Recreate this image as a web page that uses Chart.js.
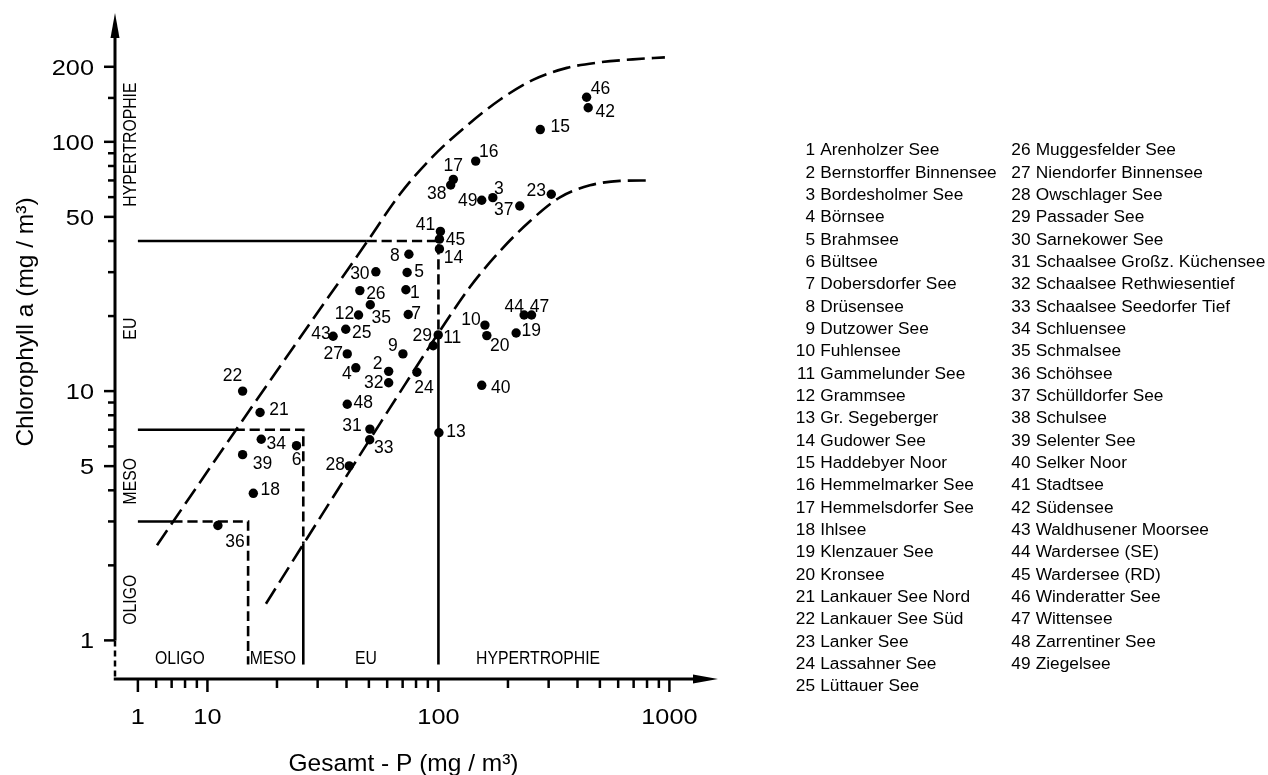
<!DOCTYPE html>
<html>
<head>
<meta charset="utf-8">
<style>
html,body{margin:0;padding:0;background:#fff;overflow:hidden}
canvas{display:block}
</style>
<script src="https://cdn.jsdelivr.net/npm/chart.js@4/dist/chart.umd.min.js"></script>
</head>
<body>
<canvas id="c" width="1268" height="775"></canvas>
<script>
// ---------------- data ----------------
const lakeNames = [
  'Arenholzer See','Bernstorffer Binnensee','Bordesholmer See','Börnsee','Brahmsee',
  'Bültsee','Dobersdorfer See','Drüsensee','Dutzower See','Fuhlensee',
  'Gammelunder See','Grammsee','Gr. Segeberger','Gudower See','Haddebyer Noor',
  'Hemmelmarker See','Hemmelsdorfer See','Ihlsee','Klenzauer See','Kronsee',
  'Lankauer See Nord','Lankauer See Süd','Lanker See','Lassahner See','Lüttauer See',
  'Muggesfelder See','Niendorfer Binnensee','Owschlager See','Passader See','Sarnekower See',
  'Schaalsee Großz. Küchensee','Schaalsee Rethwiesentief','Schaalsee Seedorfer Tief','Schluensee','Schmalsee',
  'Schöhsee','Schülldorfer See','Schulsee','Selenter See','Selker Noor',
  'Stadtsee','Südensee','Waldhusener Moorsee','Wardersee (SE)','Wardersee (RD)',
  'Winderatter See','Wittensee','Zarrentiner See','Ziegelsee'
];
// Gesamt-P (mg/m³)
const totalP = [
  72.3, 60.9, 172, 43.9, 73.2, 24.3, 74.0, 74.5, 70.2, 159,
  99.8, 45.1, 100.5, 101, 276, 145, 116, 15.8, 217, 162,
  16.9, 14.2, 308, 80.7, 39.7, 45.7, 40.3, 41.1, 94.9, 53.6,
  50.5, 60.9, 50.4, 17.1, 50.7, 11.1, 225, 113, 14.2, 154,
  102, 445, 35.0, 235, 101, 438, 253, 40.3, 154
];
// Chlorophyll a (mg/m³)
const chlA = [
  25.5, 12.0, 59.7, 12.4, 29.9, 6.04, 20.3, 35.4, 14.1, 18.4,
  16.8, 20.2, 6.81, 37.2, 112, 83.7, 70.7, 3.89, 17.1, 16.7,
  8.21, 10.0, 61.6, 11.9, 17.7, 25.3, 14.1, 5.01, 15.2, 30.1,
  7.04, 10.8, 6.38, 6.41, 22.2, 2.89, 55.3, 67.1, 5.56, 10.55,
  43.7, 137, 16.6, 20.2, 40.7, 151, 20.2, 8.86, 58.3
];
// upper and lower limit curves
const upperCurveP   = [6.05, 13.15, 25.15, 49.0, 68.1, 94.7, 132.9, 184.6, 256.6, 360, 500, 695, 956];
const upperCurveChl = [2.41, 6.89, 16.36, 39.6, 61.6, 87.4, 116.2, 147.5, 177.3, 198, 208.4, 214.2, 218.2];
const lowerCurveP   = [17.92, 25.4, 35.64, 50.5, 71.6, 101.5, 136.9, 184.6, 248.9, 335.7, 452.7, 610.6, 807];
const lowerCurveChl = [1.402, 2.347, 3.858, 6.40, 10.62, 17.45, 26.16, 36.44, 48.03, 59.91, 66.9, 69.7, 70.0];
// trophic class limits
const classLimitP   = [15, 26, 100];
const classLimitChl = [3, 7, 40];
const upperCrossP   = [7.07, 13.15, 49.0];
const lowerCrossChl = [null, 2.45, 17.0];
const limitStartP = 5;
const limitEndChl = 0.8;
// axis ticks
const xTickValues = [5,6,7,8,9,10,20,30,40,50,60,70,80,90,100,200,300,400,500,600,700,800,900,1000];
const xLabelValues = [5, 10, 100, 1000];
const xLabelTexts  = ['1', '10', '100', '1000'];
const yTickValues = [1,2,3,4,5,6,7,8,9,10,20,30,40,50,60,70,80,90,100,150,200];
const yLabelValues = [1, 5, 10, 50, 100, 200];
const yLabelTexts  = ['1', '5', '10', '50', '100', '200'];
const xRange = [3.98, 1623];
const yRange = [0.716, 328.7];
const xTitle = 'Gesamt - P (mg / m³)';
const yTitle = 'Chlorophyll a (mg / m³)';
const bottomClassNames = ['OLIGO', 'MESO', 'EU', 'HYPERTROPHIE'];
const bottomClassP     = [7.6, 19.2, 48.5, 270];
const sideClassNames   = ['HYPERTROPHIE', 'EU', 'MESO', 'OLIGO'];
const sideClassChl     = [97.5, 17.8, 4.35, 1.455];

// ---------------- layout / style ----------------
const FONT = '"Liberation Sans", Arial, Helvetica, sans-serif';
// label offsets (px) of each lake number relative to its dot
const labelOffset = [
  [9,3],[-11,-7],[6,-9],[-9,6],[12,0],[0,14],[8,0],[-14,2],[-10,-8],[-14,-5],
  [14,3],[-14,-1],[17,-1],[14,9],[20,-2],[13,-9],[0,-13],[17,-3],[15,-2],[13,11],
  [19,-2],[-10,-15],[-15,-3],[7,16],[16,4],[16,4],[-14,0],[-14,-1],[-11,-10],[-16,2],
  [-18,-3],[-15,0],[14,8],[15,5],[11,13],[17,17],[-16,4],[-14,9],[20,10],[19,3],
  [-15,-6],[17,4],[-12,-2],[-10,-8],[16,1],[14,-8],[8,-8],[16,-1],[-14,1]
];

function txt(ctx, s, x, y, o) {
  ctx.save();
  ctx.translate(x, y);
  if (o.rot) ctx.rotate(o.rot);
  if (o.sx) ctx.scale(o.sx, 1);
  ctx.font = (o.weight || '') + ' ' + o.size + 'px ' + FONT;
  ctx.textAlign = o.align || 'center';
  ctx.textBaseline = o.base || 'alphabetic';
  ctx.fillStyle = '#000';
  ctx.fillText(s, 0, 0);
  ctx.restore();
}

const axesPlugin = {
  id: 'axesPlugin',
  beforeDatasetsDraw(chart) {
    const ctx = chart.ctx, xs = chart.scales.x, ys = chart.scales.y, a = chart.chartArea;
    ctx.save();
    ctx.strokeStyle = '#000'; ctx.fillStyle = '#000';
    ctx.lineWidth = 3; ctx.lineCap = 'butt';
    const y1 = ys.getPixelForValue(1);
    // y axis
    ctx.beginPath(); ctx.moveTo(a.left, y1); ctx.lineTo(a.left, a.top + 18); ctx.stroke();
    ctx.beginPath(); ctx.moveTo(a.left, a.top); ctx.lineTo(a.left - 4.5, a.top + 25); ctx.lineTo(a.left + 4.5, a.top + 25); ctx.closePath(); ctx.fill();
    ctx.lineWidth = 2.5;
    ctx.setLineDash([6, 4]);
    ctx.beginPath(); ctx.moveTo(a.left, y1); ctx.lineTo(a.left, a.bottom); ctx.stroke();
    ctx.setLineDash([]);
    // x axis
    ctx.lineWidth = 3;
    ctx.beginPath(); ctx.moveTo(a.left - 1.25, a.bottom); ctx.lineTo(a.right - 18, a.bottom); ctx.stroke();
    ctx.beginPath(); ctx.moveTo(a.right, a.bottom); ctx.lineTo(a.right - 25, a.bottom - 4.5); ctx.lineTo(a.right - 25, a.bottom + 4.5); ctx.closePath(); ctx.fill();
    // ticks
    ctx.lineWidth = 2.5;
    xTickValues.forEach(v => {
      const px = xs.getPixelForValue(v);
      const len = xLabelValues.includes(v) ? 13 : 9;
      ctx.beginPath(); ctx.moveTo(px, a.bottom); ctx.lineTo(px, a.bottom + len); ctx.stroke();
    });
    yTickValues.forEach(v => {
      const py = ys.getPixelForValue(v);
      const len = yLabelValues.includes(v) ? 11 : 7;
      ctx.beginPath(); ctx.moveTo(a.left, py); ctx.lineTo(a.left - len, py); ctx.stroke();
    });
    // tick labels
    xLabelValues.forEach((v, i) => {
      txt(ctx, xLabelTexts[i], xs.getPixelForValue(v), a.bottom + 45, {size: 22, sx: 1.15});
    });
    yLabelValues.forEach((v, i) => {
      txt(ctx, yLabelTexts[i], a.left - 21, ys.getPixelForValue(v) + 7.8, {size: 22, sx: 1.15, align: 'right'});
    });
    // axis titles
    txt(ctx, xTitle, 403.5, 771, {size: 24.5});
    txt(ctx, yTitle, 33, 322, {size: 24.5, rot: -Math.PI / 2});
    // class names
    const yb = ys.getPixelForValue(0.807);
    bottomClassNames.forEach((s, i) => txt(ctx, s, xs.getPixelForValue(bottomClassP[i]), yb, {size: 19, sx: 0.83}));
    const xb = xs.getPixelForValue(4.93);
    sideClassNames.forEach((s, i) => txt(ctx, s, xb, ys.getPixelForValue(sideClassChl[i]), {size: 19, sx: 0.83, rot: -Math.PI / 2}));
    ctx.restore();
  },
  afterDatasetsDraw(chart) {
    const ctx = chart.ctx;
    const meta = chart.getDatasetMeta(0);
    meta.data.forEach((el, i) => {
      txt(ctx, String(i + 1), el.x + labelOffset[i][0], el.y + labelOffset[i][1], {size: 17.5, base: 'middle'});
    });
    // list of lakes
    lakeNames.forEach((n, i) => {
      const col = i < 25 ? 0 : 1;
      const row = col ? i - 25 : i;
      const numRight = col ? 1030.5 : 815;
      const y = 150.7 + row * 22.33;
      txt(ctx, String(i + 1), numRight, y, {size: 17.3, align: 'right', base: 'middle'});
      txt(ctx, n, numRight + 5.2, y, {size: 17.3, align: 'left', base: 'middle'});
    });
  }
};

const dashedSegs = [1, 2];
function limitDataset(i) {
  const pts = [
    {x: limitStartP, y: classLimitChl[i]},
    {x: upperCrossP[i], y: classLimitChl[i]},
    {x: classLimitP[i], y: classLimitChl[i]}
  ];
  if (lowerCrossChl[i] !== null) pts.push({x: classLimitP[i], y: lowerCrossChl[i]});
  pts.push({x: classLimitP[i], y: limitEndChl});
  return {
    data: pts, showLine: true, pointRadius: 0, borderColor: '#000', borderWidth: 2.6,
    fill: false, tension: 0.000001, borderCapStyle: 'butt', borderJoinStyle: 'miter',
    segment: { borderDash: c => dashedSegs.includes(c.p0DataIndex) ? [10, 5] : undefined }
  };
}
function curveDataset(px, py) {
  return {
    data: px.map((x, i) => ({x, y: py[i]})), showLine: true, pointRadius: 0,
    borderColor: '#000', borderWidth: 2.6, borderDash: [18, 7], fill: false,
    cubicInterpolationMode: 'monotone', borderCapStyle: 'butt'
  };
}

new Chart(document.getElementById('c'), {
  type: 'scatter',
  data: {
    datasets: [
      { data: totalP.map((x, i) => ({x, y: chlA[i]})), pointRadius: 4.7, pointHoverRadius: 4.7,
        backgroundColor: '#000', borderColor: '#000', borderWidth: 0, showLine: false },
      curveDataset(upperCurveP, upperCurveChl),
      curveDataset(lowerCurveP, lowerCurveChl),
      limitDataset(0), limitDataset(1), limitDataset(2)
    ]
  },
  options: {
    responsive: false, animation: false, devicePixelRatio: 1,
    layout: { padding: { left: 115, right: 550, top: 13, bottom: 96 } },
    scales: {
      x: { type: 'logarithmic', min: xRange[0], max: xRange[1], display: false },
      y: { type: 'logarithmic', min: yRange[0], max: yRange[1], display: false }
    },
    plugins: { legend: { display: false }, tooltip: { enabled: false } },
    events: []
  },
  plugins: [axesPlugin]
});
</script>
</body>
</html>
